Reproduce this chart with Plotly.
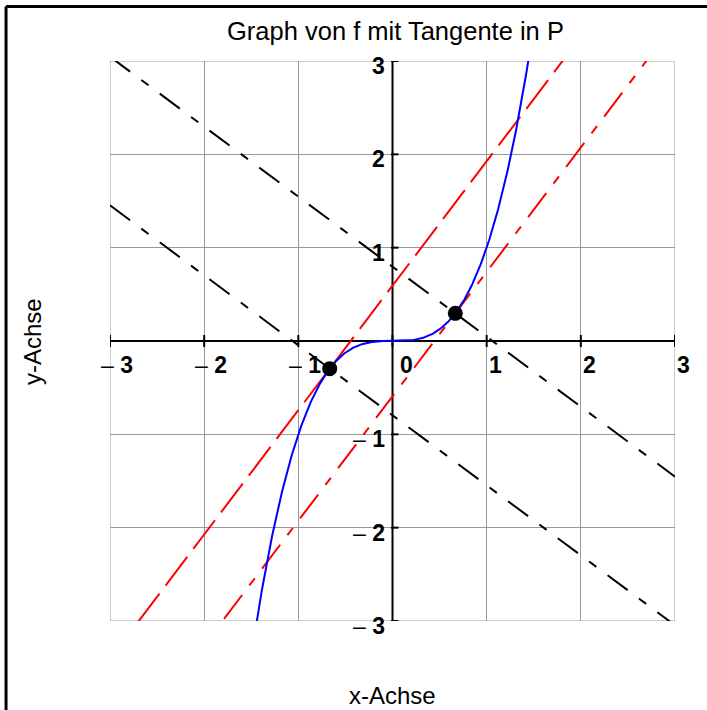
import numpy as np
import plotly.graph_objects as go

# ---- data ----
title_text = "Graph von f mit Tangente in P"
x_label = "x-Achse"
y_label = "y-Achse"
tick_values = [-3, -2, -1, 0, 1, 2, 3]
point_x = [-2/3, 2/3]          # touching points P
cubic_coeff = 1.0              # f(x) = x^3
x_range = [-3, 3]
y_range = [-3, 3]

def f(x):
    return cubic_coeff * x**3

def df(x):
    return 3 * cubic_coeff * x**2

curve_x = np.linspace(-1.5, 1.5, 601)
curve_y = f(curve_x)
line_x = np.array([x_range[0], x_range[1]])

fig = go.Figure()

FONT = "Arial, Liberation Sans, Helvetica, sans-serif"

# normals (black) and tangents (red)
tan_styles = ["36px,10px", "30px,12px,9px,12px"]
for i, px in enumerate(point_x):
    py = f(px)
    m = df(px)
    normal_y = py - (1 / m) * (line_x - px)
    fig.add_trace(go.Scatter(x=line_x, y=normal_y, mode="lines",
                             line=dict(color="black", width=2, dash="25px,14px,9px,14px"),
                             hoverinfo="skip", showlegend=False))
for i, px in enumerate(point_x):
    py = f(px)
    m = df(px)
    tangent_y = py + m * (line_x - px)
    fig.add_trace(go.Scatter(x=line_x, y=tangent_y, mode="lines",
                             line=dict(color="red", width=2, dash=tan_styles[i]),
                             hoverinfo="skip", showlegend=False))

fig.add_trace(go.Scatter(x=curve_x, y=curve_y, mode="lines",
                         line=dict(color="blue", width=2),
                         hoverinfo="skip", showlegend=False))

fig.add_trace(go.Scatter(x=point_x, y=[f(p) for p in point_x], mode="markers",
                         marker=dict(color="black", size=15),
                         hoverinfo="skip", showlegend=False))

shapes = []
# grey frame around plot area
shapes.append(dict(type="rect", xref="x", yref="y", x0=-3, x1=3, y0=-3, y1=3,
                   line=dict(color="#999999", width=1), layer="between"))
# black axes
shapes.append(dict(type="line", xref="x", yref="y", x0=-3, x1=3, y0=0, y1=0,
                   line=dict(color="black", width=2), layer="between"))
shapes.append(dict(type="line", xref="x", yref="y", x0=0, x1=0, y0=-3, y1=3,
                   line=dict(color="black", width=2), layer="between"))
# ticks
tx = 6 / 93.3
ty = 6 / 94.0
for t in tick_values:
    shapes.append(dict(type="line", xref="x", yref="y", x0=t, x1=t, y0=-tx, y1=tx,
                       line=dict(color="black", width=2), layer="between"))
    if t != 0:
        shapes.append(dict(type="line", xref="x", yref="y", x0=-0.016, x1=ty, y0=t, y1=t,
                           line=dict(color="black", width=2), layer="between"))
# outer black frame (top and left)
shapes.append(dict(type="line", xref="paper", yref="paper", x0=-0.184, x1=1.1,
                   y0=1.0973, y1=1.0973, line=dict(color="black", width=3)))
shapes.append(dict(type="line", xref="paper", yref="paper", x0=-0.184, x1=-0.184,
                   y0=-0.2, y1=1.0973, line=dict(color="black", width=3)))

annotations = []
tick_font = dict(family=FONT, size=23, color="black")
for t in tick_values:
    if t > 0:
        txt, xs = f"<b>{t}</b>", 0
    elif t == 0:
        txt, xs = "<b>0</b>", 5
    else:
        txt, xs = f"\u2013 <b>{abs(t)}</b>", -11
    annotations.append(dict(x=t, y=0, xref="x", yref="y", text=txt, showarrow=False,
                            xanchor="left", yanchor="middle", xshift=xs, yshift=-24,
                            font=tick_font))
    if t != 0:
        ytxt = f"<b>{t}</b>" if t > 0 else f"\u2013 <b>{abs(t)}</b>"
        annotations.append(dict(x=0, y=t, xref="x", yref="y", text=ytxt, showarrow=False,
                                xanchor="right", yanchor="middle", xshift=-6, yshift=-5,
                                font=tick_font))

annotations.append(dict(x=0.505, y=(621 - 31) / 560, xref="paper", yref="paper",
                        text=title_text, showarrow=False, xanchor="center", yanchor="middle",
                        font=dict(family=FONT, size=25.5, color="black")))
annotations.append(dict(x=(392 - 110) / 565, y=(621 - 695) / 560, xref="paper", yref="paper",
                        text=x_label, showarrow=False, xanchor="center", yanchor="middle",
                        font=dict(family=FONT, size=24, color="black")))
annotations.append(dict(x=(32 - 110) / 565, y=(621 - 342) / 560, xref="paper", yref="paper",
                        text=y_label, showarrow=False, xanchor="center", yanchor="middle",
                        textangle=-90,
                        font=dict(family=FONT, size=24, color="black")))

fig.update_layout(
    width=707, height=710,
    margin=dict(l=110, r=32, t=61, b=89),
    paper_bgcolor="white", plot_bgcolor="white",
    shapes=shapes, annotations=annotations,
    xaxis=dict(range=x_range, tickvals=tick_values, showticklabels=False, ticks="",
               showgrid=True, gridcolor="#999999", gridwidth=1, zeroline=False,
               showline=False, fixedrange=True),
    yaxis=dict(range=y_range, tickvals=tick_values, showticklabels=False, ticks="",
               showgrid=True, gridcolor="#999999", gridwidth=1, zeroline=False,
               showline=False, fixedrange=True),
)

fig.write_html("out.html", config={"displayModeBar": False},
               post_script="document.body.style.margin='0px';document.body.style.overflow='hidden';")
